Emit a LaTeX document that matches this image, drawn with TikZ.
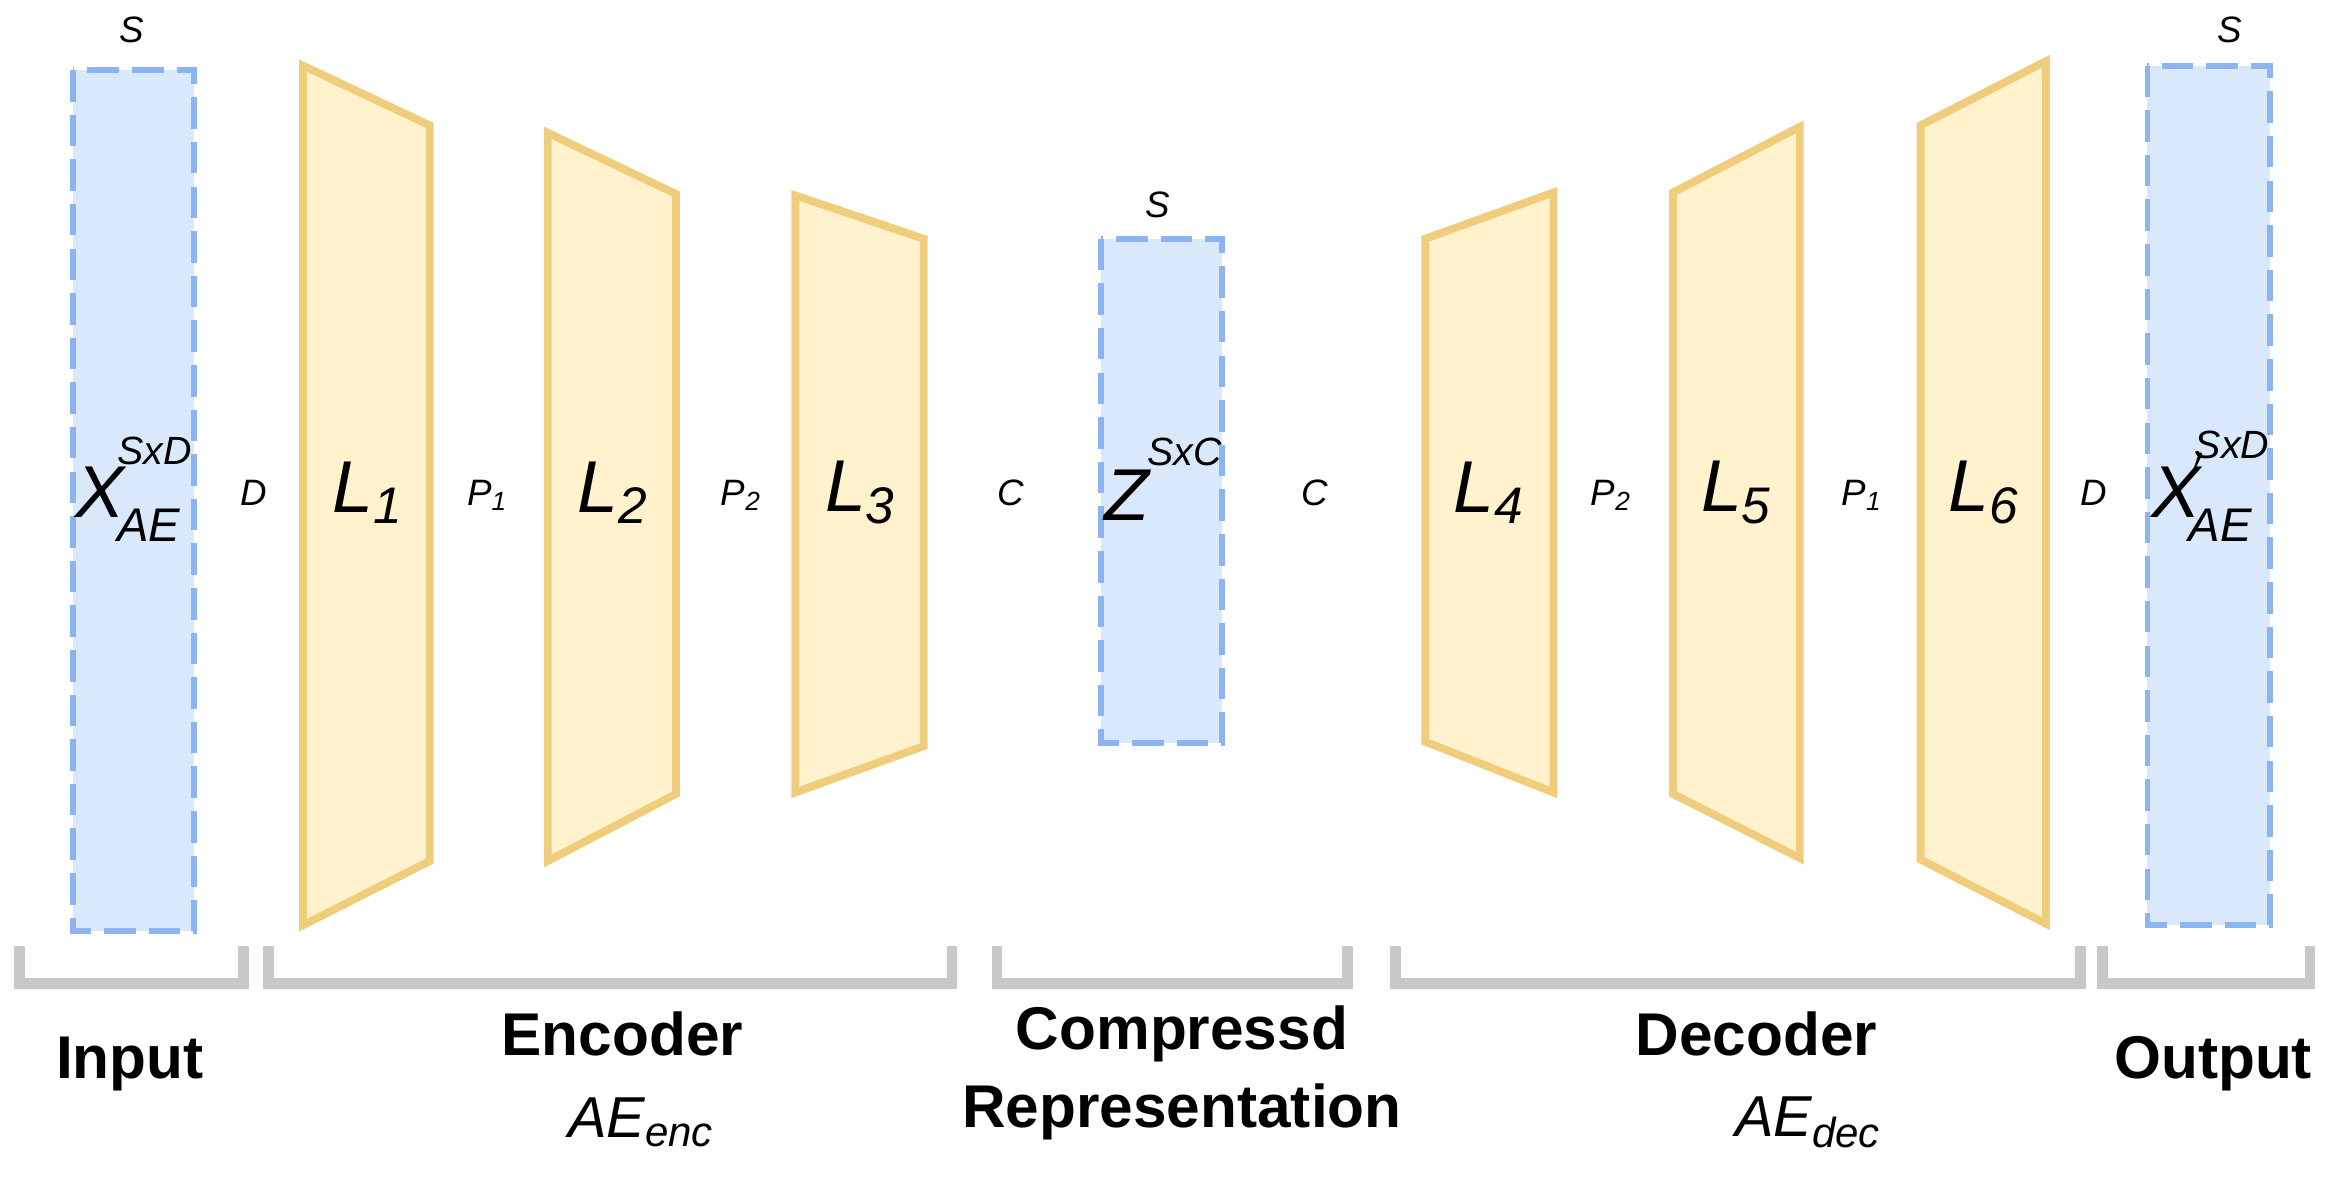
\documentclass[tikz,border=0pt]{standalone}
\usepackage{fontspec}
\setmainfont{Liberation Sans}
\begin{document}
\begin{tikzpicture}[x=0.01cm,y=-0.01cm,
  blk/.style={fill={rgb,255:red,218;green,232;blue,252},draw={rgb,255:red,140;green,180;blue,240},dash pattern=on 6pt off 2.5pt,line width=1.1pt},
  lay/.style={fill={rgb,255:red,255;green,242;blue,204},draw={rgb,255:red,240;green,205;blue,125},line width=1.5pt,line join=miter},
  brk/.style={draw={rgb,255:red,200;green,200;blue,200},line width=2pt},
  sm/.style={font=\fontsize{7}{8}\selectfont\itshape},
  big/.style={font=\fontsize{14}{16}\selectfont\itshape},
  ttl/.style={font=\fontsize{11.5}{13}\selectfont\bfseries}]
\useasboundingbox (0,0) rectangle (1568,793.4);
% blocks
\draw[blk] (49,47) rectangle (130,624);
\coordinate (in) at (89,335);
\draw[blk] (738,160) rectangle (819,498);
\coordinate (z) at (778,329);
\draw[blk] (1439,44) rectangle (1521,620);
\coordinate (out) at (1480,332);
% layers
\draw[lay] (203,44) -- (288,84) -- (288,577) -- (203,620) -- cycle;
\draw[lay] (367,89) -- (453,130) -- (453,532) -- (367,577) -- cycle;
\draw[lay] (533,131) -- (619,160) -- (619,500) -- (533,531) -- cycle;
\draw[lay] (955,160) -- (1041,129) -- (1041,531) -- (955,497) -- cycle;
\draw[lay] (1121,129) -- (1206,85) -- (1206,575) -- (1121,532) -- cycle;
\draw[lay] (1287,84) -- (1371,41) -- (1371,619) -- (1287,576) -- cycle;
\node[big] (t1) at (247,330) {L\textsubscript{1}};
\node[big] (t2) at (411,330) {L\textsubscript{2}};
\node[big] (t3) at (577,330) {L\textsubscript{3}};
\node[big] (t4) at (998,330) {L\textsubscript{4}};
\node[big] (t5) at (1164,330) {L\textsubscript{5}};
\node[big] (t6) at (1330,330) {L\textsubscript{6}};
% block labels
\node[big,inner sep=0] (xin) at (67,330) {X};
\node[font=\fontsize{7.5}{9}\selectfont\itshape,anchor=west,inner sep=0] (xins) at (78,302) {SxD};
\node[font=\fontsize{9}{10}\selectfont\itshape,anchor=west,inner sep=0] (xinb) at (78,352) {AE};
\node[big,inner sep=0] (zz) at (755,332) {Z};
\node[font=\fontsize{7.5}{9}\selectfont\itshape,anchor=west,inner sep=0] (zs) at (768,303) {SxC};
\node[big,inner sep=0] (xo) at (1458,330) {X};
\node[font=\fontsize{9}{10}\selectfont\itshape,inner sep=0] (xop) at (1474,316) {$'$};
\node[font=\fontsize{7.5}{9}\selectfont\itshape,anchor=west,inner sep=0] (xos) at (1470,298) {SxD};
\node[font=\fontsize{9}{10}\selectfont\itshape,anchor=west,inner sep=0] (xob) at (1466,352) {AE};
% S labels
\node[sm] (s1) at (88,20) {S};
\node[sm] (s2) at (776,137) {S};
\node[sm] (s3) at (1494,20) {S};
% small dims
\node[sm] (d1) at (170,330) {D};
\node[sm] (p1) at (327,332) {P\textsubscript{1}};
\node[sm] (p2) at (497,332) {P\textsubscript{2}};
\node[sm] (c1) at (677,330) {C};
\node[sm] (c2) at (881,330) {C};
\node[sm] (p3) at (1080,332) {P\textsubscript{2}};
\node[sm] (p4) at (1248,332) {P\textsubscript{1}};
\node[sm] (d2) at (1403,330) {D};
% brackets
\foreach \a/\b in {13/163,180/638,668/903,935/1394,1409/1548}
  \draw[brk] (\a,634) -- (\a,659) -- (\b,659) -- (\b,634);
% titles
\node[ttl] (gi) at (87,713) {Input};
\node[ttl] (ge) at (417,693) {Encoder};
\node[font=\fontsize{11}{13}\selectfont\itshape] (gea) at (430,752) {AE\textsubscript{\fontsize{8}{9}\selectfont enc}};
\node[ttl,align=center] (gc) at (792,719) {Compressd\\[2pt]Representation};
\node[ttl] (gd) at (1177,693) {Decoder};
\node[font=\fontsize{11}{13}\selectfont\itshape] (gda) at (1212,752) {AE\textsubscript{\fontsize{8}{9}\selectfont dec}};
\node[ttl] (go) at (1483,713) {Output};
\end{tikzpicture}
\end{document}
